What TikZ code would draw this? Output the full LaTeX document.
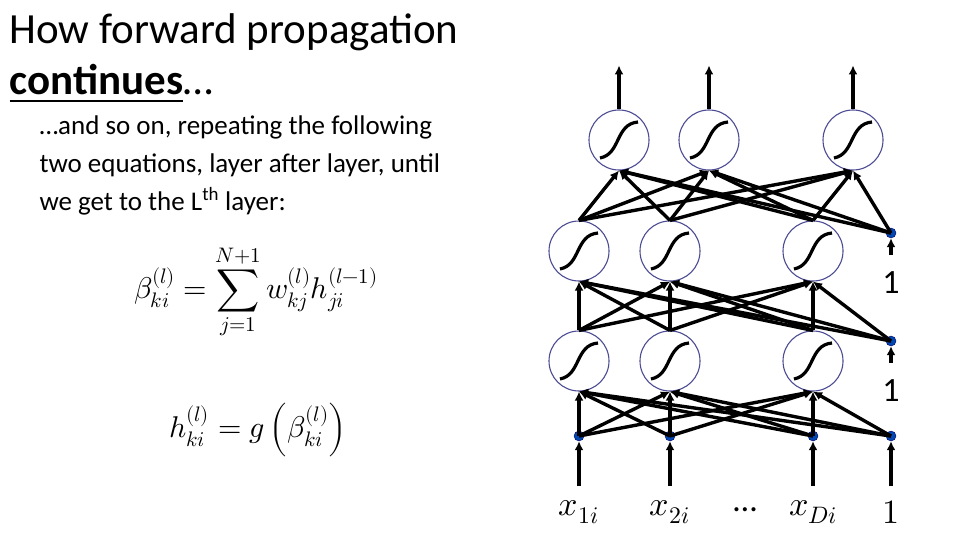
\documentclass[tikz,border=0pt]{standalone}
\usepackage{fontspec}
\usepackage{unicode-math}
\setmainfont{Carlito}
\setmathfont{Latin Modern Math}
\usetikzlibrary{arrows.meta}
\begin{document}
\begin{tikzpicture}[x=1pt,y=-1pt,
  neuron/.style={circle,draw=black!60!blue!70!white,line width=1.1pt,minimum size=60pt,inner sep=0},
  bdot/.style={circle,fill=blue!60!cyan!70!black,draw=blue!40!black,line width=0.4pt,minimum size=10pt,inner sep=0},
  wire/.style={line width=3.4pt,-{Latex[length=9pt,width=9pt]}},
  lab/.style={font=\fontsize{34}{34}\selectfont}]
\useasboundingbox (0,0) rectangle (960,540);
% text
\node[anchor=west,font=\fontsize{43}{43}\selectfont] (t1) at (6,32) {How forward propagation};
\node[anchor=west,font=\fontsize{43}{43}\selectfont] (t2) at (6,84) {\underline{\textbf{continues}}…};
\node[anchor=north west,align=left,font=\fontsize{27}{38}\selectfont] (body) at (36,112) {…and so on, repeating the following\\two equations, layer after layer, until\\we get to the L\textsuperscript{th} layer:};
\node[font=\fontsize{30}{30}\selectfont] (eq1) at (256,292) {$\displaystyle \beta_{ki}^{(l)}=\sum_{j=1}^{N+1} w_{kj}^{(l)}h_{ji}^{(l-1)}$};
\node[font=\fontsize{30}{30}\selectfont] (eq2) at (258,430) {$\displaystyle h_{ki}^{(l)}=g\,\Bigl(\beta_{ki}^{(l)}\Bigr)$};
% neurons
\foreach \n/\x/\y in {a1/579/361,a2/670/361,a3/813/361,b1/579/251,b2/670/251,b3/813/251,c1/619/140,c2/709/140,c3/853/140}{
  \node[neuron] (\n) at (\x,\y) {};
  \draw[line width=3.2pt] ([shift={(-19,18)}]\n.center) .. controls ([shift={(2,14)}]\n.center) and ([shift={(-4,-16)}]\n.center) .. ([shift={(19,-18)}]\n.center);
}
\foreach \n/\x/\y in {x1/579/436,x2/670/436,x3/813/436,x4/891/436,ba/891/341,bb/891/233}{
  \node[bdot] (\n) at (\x,\y) {};
}
% edges
\foreach \s in {x1,x2,x3,x4}{\foreach \t in {a1,a2,a3}{\draw[wire] (\s.center) -- (\t.south);}}
\foreach \s in {a1,a2,a3}{\foreach \t in {b1,b2,b3}{\draw[wire] (\s.north) -- (\t.south);}}
\foreach \t in {b1,b2,b3}{\draw[wire] (ba.center) -- (\t.south);}
\foreach \s in {b1,b2,b3}{\foreach \t in {c1,c2,c3}{\draw[wire] (\s.north) -- (\t.south);}}
\foreach \t in {c1,c2,c3}{\draw[wire] (bb.center) -- (\t.south);}
% outputs
\foreach \n in {c1,c2,c3}{\coordinate (o\n) at ([shift={(0,-44)}]\n.north); \draw[wire] (\n.north) -- (o\n);}
% input arrows and labels
\foreach \n/\t in {x1/{$x_{1i}$},x2/{$x_{2i}$},x3/{$x_{Di}$},x4/{$1$}}{
  \coordinate (i\n) at ([shift={(0,50)}]\n.center);
  \draw[wire] (i\n) -- (\n.south);
  \node[lab] (l\n) at ([shift={(0,76)}]\n.center) {\t};
}
\node[lab] (dots) at (745,510) {…};
\foreach \n in {ba,bb}{
  \coordinate (i\n) at ([shift={(0,22)}]\n.center);
  \draw[wire] (i\n) -- (\n.south);
  \node[lab] (l\n) at ([shift={(0,50)}]\n.center) {1};
}
\end{tikzpicture}
\end{document}
